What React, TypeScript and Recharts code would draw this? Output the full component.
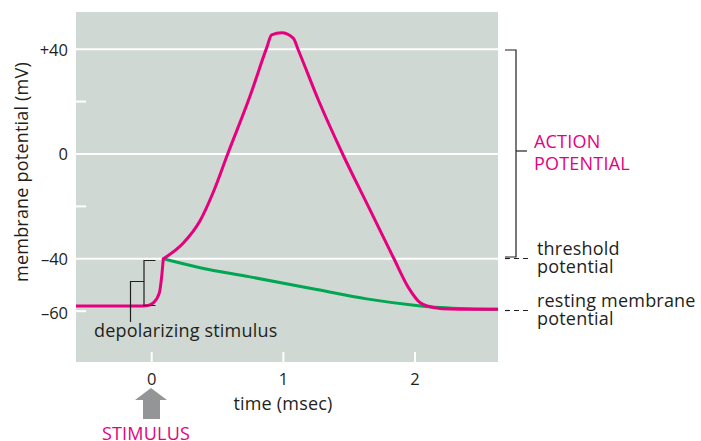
import React from 'react';
import {
  LineChart,
  Line,
  XAxis,
  YAxis,
  CartesianGrid,
  ReferenceLine
} from 'recharts';

// action potential (pink): time in msec, potential in mV
const stepTime = [-0.575, -0.1, -0.03, 0.012, 0.058, 0.076, 0.088];
const stepMv = [-58, -58, -57.8, -56.8, -53, -46.6, -40];

const spikeTime = [
  0.088, 0.24, 0.367, 0.468, 0.577, 0.746, 0.873, 0.911, 0.987, 1.075, 1.113,
  1.265, 1.45, 1.645, 1.84, 1.95, 2.04, 2.15, 2.265, 2.63
];
const spikeMv = [
  -40, -34, -25.5, -14.5, 0, 22, 40.5, 45.5, 46.3, 44.2, 39.7,
  20.7, 0, -20, -40, -51, -56.8, -58.7, -59.2, -59.3
];

// subthreshold decay (green)
const decayTime = [0.088, 0.367, 0.746, 1.253, 1.632, 2.01, 2.19, 2.4, 2.63];
const decayMv = [-40, -43.4, -46.9, -51.7, -55.3, -57.8, -58.6, -59.1, -59.3];

const yTicks = [40, 20, 0, -20, -40, -60];
const yLabels: Record<number, string> = { 40: '+40', 0: '0', '-40': '–40', '-60': '–60' };
const gridLevels = [40, 0, -40];
const xTicks = [0, 1, 2];

const toRows = (ts: number[], vs: number[]) => ts.map((t, i) => ({ t, mv: vs[i] }));
const stepData = toRows(stepTime, stepMv);
const spikeData = toRows(spikeTime, spikeMv);
const decayData = toRows(decayTime, decayMv);

const FONT = '"Open Sans", sans-serif';
const INK = '#231f20';
const PINK = '#e6007e';
const GREEN = '#00a651';
const BG = '#cfd8d3';
const TXT = 18;

const YTick = (props: any) => {
  const { x, y, payload } = props;
  const v = payload.value;
  const label = yLabels[v];
  return (
    <g>
      {label === undefined || v === -60 ? (
        <line x1={x} x2={x + 10} y1={y} y2={y} stroke="#fff" strokeWidth={2} />
      ) : null}
      {label !== undefined ? (
        <text
          x={x - 8}
          y={v === -60 ? y + 1.5 : y}
          textAnchor="end"
          dominantBaseline="central"
          fontFamily={FONT}
          fontSize={16.5}
          fill={INK}
        >
          {label}
        </text>
      ) : null}
    </g>
  );
};

const XTick = (props: any) => {
  const { x, y, payload } = props;
  return (
    <g>
      <line x1={x} x2={x} y1={y - 10} y2={y} stroke="#fff" strokeWidth={2} />
      <text
        x={x}
        y={y + 16}
        textAnchor="middle"
        dominantBaseline="central"
        fontFamily={FONT}
        fontSize={16.5}
        fill={INK}
      >
        {payload.value}
      </text>
    </g>
  );
};

const Label = ({ x, y, children, color = INK, anchor = 'start' }: any) => (
  <text
    x={x}
    y={y}
    textAnchor={anchor}
    dominantBaseline="central"
    fontSize={TXT}
    letterSpacing={0.2}
    fill={color}
  >
    {children}
  </text>
);

const Notes = () => (
  <svg
    width={701}
    height={441}
    style={{ position: 'absolute', left: 0, top: 0, pointerEvents: 'none' }}
    fontFamily={FONT}
  >
    <text
      transform="translate(21,172) rotate(-90)"
      textAnchor="middle"
      dominantBaseline="central"
      fontSize={TXT}
      letterSpacing={0.2}
      fill={INK}
    >
      membrane potential (mV)
    </text>

    {/* depolarizing stimulus brackets */}
    <g stroke={INK} strokeWidth={1.2} fill="none">
      <polyline points="155.5,260.5 144,260.5 144,305.5 155.5,305.5" />
      <polyline points="144,281.5 130.5,281.5 130.5,322" />
    </g>
    <Label x={94} y={330}>depolarizing stimulus</Label>

    <Label x={283} y={403} anchor="middle">time (msec)</Label>

    <polygon
      points="151,388 167,400 160,400 160,419 143,419 143,400 135,400"
      fill="#939597"
    />
    <Label x={146} y={433} anchor="middle" color={PINK}>STIMULUS</Label>

    {/* action potential bracket */}
    <g stroke={INK} strokeWidth={1.2} fill="none">
      <polyline points="505,50 516,50 516,257 505,257" />
      <line x1={516} x2={527} y1={151} y2={151} />
    </g>
    <g stroke={INK} strokeWidth={1.2} strokeDasharray="5 4">
      <line x1={505} x2={532} y1={258.5} y2={258.5} />
      <line x1={505} x2={532} y1={310.5} y2={310.5} />
    </g>
    <Label x={534} y={141} color={PINK}>ACTION</Label>
    <Label x={534} y={162.5} color={PINK}>POTENTIAL</Label>
    <Label x={537} y={248}>threshold</Label>
    <Label x={537} y={266}>potential</Label>
    <Label x={537} y={300}>resting membrane</Label>
    <Label x={537} y={318}>potential</Label>
  </svg>
);

export default function App() {
  return (
    <div style={{ position: 'absolute', left: 0, top: 0, width: 701, height: 441 }}>
      <LineChart
        width={701}
        height={441}
        margin={{ top: 12, right: 203, bottom: 49, left: 16 }}
      >
        <CartesianGrid horizontal={false} vertical={false} fill={BG} fillOpacity={1} />
        <XAxis
          type="number"
          dataKey="t"
          domain={[-0.575, 2.63]}
          allowDataOverflow
          ticks={xTicks}
          tick={<XTick />}
          tickSize={0}
          tickMargin={0}
          axisLine={false}
          tickLine={false}
          height={30}
        />
        <YAxis
          type="number"
          dataKey="mv"
          domain={[-79.4, 54.2]}
          allowDataOverflow
          ticks={yTicks}
          tick={<YTick />}
          tickSize={0}
          tickMargin={0}
          axisLine={false}
          tickLine={false}
          width={60}
          interval={0}
        />
        {gridLevels.map((g) => (
          <ReferenceLine key={g} y={g} stroke="#fff" strokeWidth={2} />
        ))}
        <Line
          data={decayData}
          dataKey="mv"
          type="monotone"
          stroke={GREEN}
          strokeWidth={3}
          dot={false}
          isAnimationActive={false}
        />
        <Line
          data={stepData}
          dataKey="mv"
          type="monotone"
          stroke={PINK}
          strokeWidth={3}
          strokeLinejoin="round"
          dot={false}
          isAnimationActive={false}
        />
        <Line
          data={spikeData}
          dataKey="mv"
          type="monotone"
          stroke={PINK}
          strokeWidth={3}
          strokeLinecap="round"
          dot={false}
          isAnimationActive={false}
        />
      </LineChart>
      <Notes />
    </div>
  );
}
